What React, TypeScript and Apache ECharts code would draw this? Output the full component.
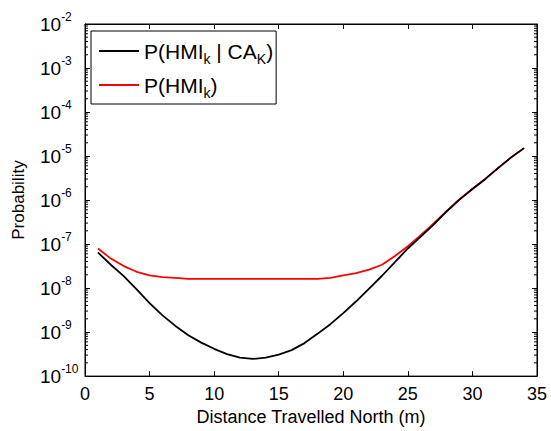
import React, { useEffect, useRef } from "react";
import * as echarts from "echarts";

const distance = [1, 2, 3, 4, 5, 6, 7, 8, 9, 10, 11, 12, 13, 14, 15, 16, 17, 18, 19, 20, 21, 22, 23, 24, 25, 26, 27, 28, 29, 30, 31, 32, 33, 34];

// log10 of probability
const condLog = [-7.19, -7.47, -7.73, -8.03, -8.34, -8.62, -8.86, -9.07, -9.24, -9.38, -9.5, -9.58, -9.61, -9.58, -9.51, -9.41, -9.25, -9.04, -8.82, -8.57, -8.3, -8.01, -7.72, -7.41, -7.1, -6.83, -6.56, -6.26, -5.99, -5.75, -5.52, -5.27, -5.03, -4.82];
const margLog = [-7.1, -7.33, -7.5, -7.63, -7.71, -7.75, -7.77, -7.79, -7.79, -7.79, -7.79, -7.79, -7.79, -7.79, -7.79, -7.79, -7.79, -7.79, -7.77, -7.71, -7.66, -7.58, -7.47, -7.27, -7.05, -6.8, -6.53, -6.25, -5.98, -5.75, -5.52, -5.27, -5.03, -4.82];

const xTicks = { min: 0, max: 35, interval: 5 };
const yRange = { min: 1e-10, max: 1e-2 };
const decades = [-10, -9, -8, -7, -6, -5, -4, -3];
const minorMultipliers = [2, 3, 4, 5, 6, 7, 8, 9];

const FONT = "'Liberation Sans', Arial, Helvetica, sans-serif";

export default function App() {
  const ref = useRef<HTMLDivElement>(null);
  useEffect(() => {
    if (!ref.current) return;
    const chart = echarts.init(ref.current, null, { renderer: "svg" });
    const cond = distance.map((d, i) => [d, Math.pow(10, condLog[i])]);
    const marg = distance.map((d, i) => [d, Math.pow(10, margLog[i])]);
    const minorVals: number[][] = [];
    decades.forEach((e) => minorMultipliers.forEach((m) => minorVals.push([1, m * Math.pow(10, e)])));

    const yAxisBase = {
      type: "log" as const,
      logBase: 10,
      min: yRange.min,
      max: yRange.max,
      splitNumber: 8,
      splitLine: { show: false },
      axisLine: { show: true, onZero: false, lineStyle: { color: "#000", width: 1 } },
      axisTick: { show: true, inside: true, length: 5, lineStyle: { color: "#000" } },
      minorTick: { show: false },
    };
    const xAxisBase = {
      type: "value" as const,
      min: xTicks.min,
      max: xTicks.max,
      interval: xTicks.interval,
      splitLine: { show: false },
      axisLine: { show: true, onZero: false, lineStyle: { color: "#000", width: 1 } },
      axisTick: { show: true, inside: true, length: 5, lineStyle: { color: "#000" } },
    };

    chart.setOption({
      animation: false,
      backgroundColor: "#fff",
      textStyle: { fontFamily: FONT },
      grid: {
        left: 85,
        right: 14,
        top: 24,
        bottom: 51,
        containLabel: false,
        show: true,
        backgroundColor: "transparent",
        borderColor: "#000",
        borderWidth: 1,
      },
      legend: {
        data: ["cond", "marg"],
        orient: "vertical",
        left: 91,
        top: 31,
        icon: "rect",
        itemWidth: 40,
        itemHeight: 2,
        itemGap: 4,
        padding: [5, 3, 4, 8],
        backgroundColor: "#fff",
        borderColor: "#000",
        borderWidth: 1,
        borderRadius: 0,
        formatter: (name: string) =>
          name === "cond"
            ? "{n|P(HMI}{s|k}{n| | CA}{s|K}{n|)}"
            : "{n|P(HMI}{s|k}{n|)}",
        textStyle: {
          fontFamily: FONT,
          color: "#000",
          rich: {
            n: { fontSize: 21, lineHeight: 22, verticalAlign: "middle", fontFamily: FONT, color: "#000" },
            s: { fontSize: 14, lineHeight: 14, padding: [16, 0, 0, 0], verticalAlign: "middle", fontFamily: FONT, color: "#000" },
          },
        },
      },
      xAxis: [
        {
          ...xAxisBase,
          position: "bottom",
          name: "Distance Travelled North (m)",
          nameLocation: "middle",
          nameGap: 28,
          nameTextStyle: { fontSize: 18, color: "#000", fontFamily: FONT },
          axisLabel: { show: true, fontSize: 18, color: "#000", margin: 9, fontFamily: FONT },
        },
        {
          ...xAxisBase,
          position: "top",
          axisLabel: { show: false },
        },
      ],
      yAxis: [
        {
          ...yAxisBase,
          position: "left",
          name: "Probability",
          nameLocation: "middle",
          nameGap: 58,
          nameTextStyle: { fontSize: 17, color: "#000", fontFamily: FONT },
          axisLabel: {
            show: true,
            align: "left",
            margin: 45,
            formatter: (v: number) => `{b|10}{e|${Math.round(Math.log10(v))}}`,
            rich: {
              b: { fontSize: 19, lineHeight: 20, verticalAlign: "middle", color: "#000", fontFamily: FONT },
              e: { fontSize: 12, lineHeight: 12, padding: [0, 0, 14, 0], verticalAlign: "middle", color: "#000", fontFamily: FONT },
            },
          },
        },
        {
          ...yAxisBase,
          position: "right",
          axisLabel: { show: false },
        },
      ],
      series: [
        {
          name: "cond",
          type: "line",
          data: cond,
          symbol: "none",
          smooth: false,
          lineStyle: { color: "#000", width: 1.8 },
          itemStyle: { color: "#000" },
          z: 3,
        },
        {
          name: "marg",
          type: "line",
          data: marg,
          symbol: "none",
          smooth: false,
          lineStyle: { color: "#ff0000", width: 1.8 },
          itemStyle: { color: "#ff0000" },
          z: 2,
        },
        {
          name: "minorTicks",
          type: "custom",
          data: minorVals,
          silent: true,
          clip: false,
          z: 4,
          renderItem: (params: any, api: any) => {
            const cs = params.coordSys;
            const p = api.coord([api.value(0), api.value(1)]);
            const y = p[1];
            const left = cs.x;
            const right = cs.x + cs.width;
            return {
              type: "group",
              children: [
                { type: "line", shape: { x1: left, y1: y, x2: left + 3, y2: y }, style: { stroke: "#000", lineWidth: 1 } },
                { type: "line", shape: { x1: right, y1: y, x2: right - 3, y2: y }, style: { stroke: "#000", lineWidth: 1 } },
              ],
            };
          },
        },
      ],
    });
    return () => chart.dispose();
  }, []);
  return <div ref={ref} style={{ position: "fixed", left: 0, top: 0, width: 551, height: 431 }} />;
}
